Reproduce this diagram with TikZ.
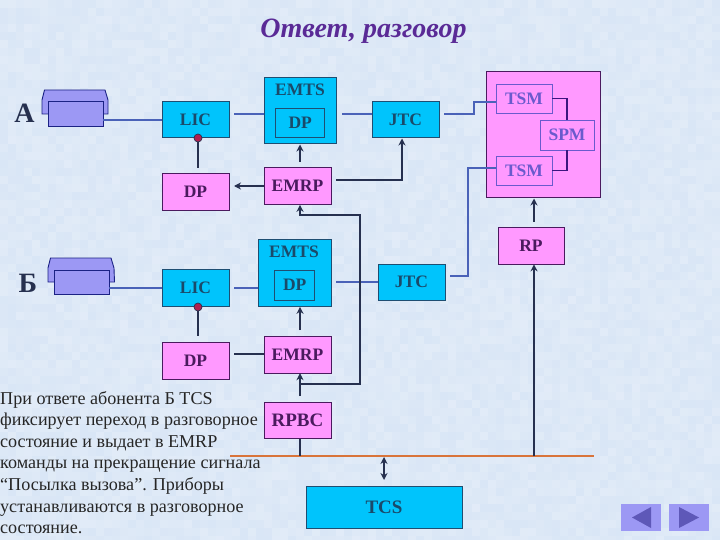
\documentclass[tikz,border=0pt]{standalone}
\usepackage{fontspec}
\setmainfont{Liberation Serif}
\usetikzlibrary{arrows.meta}
\definecolor{bgc}{HTML}{D9E6F6}
\definecolor{cyanc}{HTML}{00C4FC}
\definecolor{pinkc}{HTML}{FF99FF}
\definecolor{cyantxt}{HTML}{1A4A6A}
\definecolor{pinktxt}{HTML}{4A1A5E}
\definecolor{navyc}{HTML}{26304F}
\definecolor{bluec}{HTML}{4A62B8}
\definecolor{tsmc}{HTML}{6A5ACD}
\definecolor{phonec}{HTML}{9C98F4}
\definecolor{titlec}{HTML}{5A2A96}
\definecolor{busc}{HTML}{D9743A}
\definecolor{trianc}{HTML}{5E58B8}
\definecolor{dotc}{HTML}{B02050}
\tikzset{
  boxbase/.style={draw,line width=1pt,inner sep=0pt,font=\fontsize{17.5}{20}\selectfont\bfseries},
  cyanbox/.style={boxbase,fill=cyanc,draw=navyc!80!cyanc,text=cyantxt},
  pinkbox/.style={boxbase,fill=pinkc,draw=pinktxt,text=pinktxt},
  tsmbox/.style={draw=tsmc,fill=pinkc,line width=0.9pt,inner sep=0pt,text=tsmc,font=\fontsize{17.5}{20}\selectfont\bfseries},
  phoneb/.style={draw=navyc!70!blue,line width=0.9pt,fill=phonec},
  dark/.style={draw=navyc,line width=2pt},
  darkar/.style={dark,-{Stealth[length=7pt,width=7pt]}},
  blueln/.style={draw=bluec,line width=2pt},
  thinln/.style={draw=pinktxt!80!blue,line width=1.2pt},
  dotn/.style={circle,fill=dotc,draw=navyc,line width=0.7pt,minimum size=8pt,inner sep=0pt},
  navbtn/.style={fill=phonec,minimum width=40pt,minimum height=27pt,inner sep=0pt},
  lettern/.style={font=\fontsize{28}{30}\selectfont\bfseries,text=navyc,inner sep=0pt}
}
\begin{document}
\begin{tikzpicture}[x=1pt,y=-1pt]
\useasboundingbox (0,0) rectangle (720,540);
\fill[bgc] (0,0) rectangle (720,540);
% mottled paper
\pgfmathsetseed{7}
\foreach \ix in {0,...,89}{\foreach \iy in {0,...,67}{
  \pgfmathsetmacro{\op}{rnd*0.24}
  \fill[white,opacity=\op] (8*\ix,8*\iy) rectangle ++(8,8);
}}
% title
\node[inner sep=0pt,text=titlec,font=\fontsize{28}{30}\selectfont\bfseries\itshape] (title) at (363.5,31) {Ответ, разговор};
% big switch block
\node[draw=pinktxt,fill=pinkc,line width=1pt,inner sep=0pt,minimum width=114pt,minimum height=126pt] (spmblk) at (543,135) {};
\node[tsmbox,minimum width=56pt,minimum height=29pt] (tsma) at (524,98.5) {TSM};
\node[tsmbox,minimum width=54pt,minimum height=30pt] (spm) at (567,135) {SPM};
\node[tsmbox,minimum width=56pt,minimum height=29pt] (tsmb) at (524,170.5) {TSM};
% A row
\node[cyanbox,minimum width=67pt,minimum height=36pt] (lica) at (195.5,120) {LIC};
\node[cyanbox,minimum width=72.5pt,minimum height=66pt] (emtsa) at (300.5,111) {};
\node[inner sep=0pt,text=cyantxt,font=\fontsize{17.5}{20}\selectfont\bfseries] (emtsal) at (300,90) {EMTS};
\node[cyanbox,minimum width=48.5pt,minimum height=29.5pt] (dpia) at (300.2,122.8) {DP};
\node[cyanbox,minimum width=67pt,minimum height=36pt] (jtca) at (405.5,120) {JTC};
\node[pinkbox,minimum width=67pt,minimum height=36.5pt] (dpa) at (195.5,192.2) {DP};
\node[pinkbox,minimum width=67pt,minimum height=36.5pt] (emrpa) at (297.5,186.2) {EMRP};
% B row
\node[cyanbox,minimum width=67pt,minimum height=36.5pt] (licb) at (195.5,288.2) {LIC};
\node[cyanbox,minimum width=73pt,minimum height=66.5pt] (emtsb) at (294.5,273.2) {};
\node[inner sep=0pt,text=cyantxt,font=\fontsize{17.5}{20}\selectfont\bfseries] (emtsbl) at (294,252) {EMTS};
\node[cyanbox,minimum width=40.5pt,minimum height=30pt] (dpib) at (294.7,285) {DP};
\node[cyanbox,minimum width=67pt,minimum height=36pt] (jtcb) at (411.5,282) {JTC};
\node[pinkbox,minimum width=67pt,minimum height=37pt] (dpb) at (195.5,360.5) {DP};
\node[pinkbox,minimum width=67pt,minimum height=37pt] (emrpb) at (297.5,354.5) {EMRP};
\node[pinkbox,minimum width=66pt,minimum height=36pt] (rp) at (531,246) {RP};
\node[pinkbox,minimum width=67pt,minimum height=36pt,font=\fontsize{19}{20}\selectfont\bfseries] (rpbc) at (297.5,420) {RPBC};
\node[cyanbox,minimum width=156pt,minimum height=42pt,font=\fontsize{19}{20}\selectfont\bfseries] (tcs) at (384,507) {TCS};
% phones
\draw[phoneb] (42,114) -- (42,100) -- (44.5,90) -- (105,90) -- (108,100) -- (108,114) -- cycle;
\node[phoneb,inner sep=0pt,minimum width=55pt,minimum height=24.5pt] (pha) at (75.5,114.2) {};
\draw[phoneb] (48,282) -- (48,268) -- (50.5,258) -- (111,258) -- (114,268) -- (114.5,282) -- cycle;
\node[phoneb,inner sep=0pt,minimum width=55pt,minimum height=24.5pt] (phb) at (81.5,282.2) {};
\node[lettern] (la) at (24.5,113) {А};
\node[lettern] (lb) at (28,283) {Б};
% bus
\coordinate (busl) at (230,456);
\coordinate (busr) at (594,456);
\draw[draw=busc,line width=2.4pt] (busl) -- (busr);
% free ends
\coordinate (a1) at (234,114); \coordinate (a2) at (264,114);
\coordinate (a3) at (342,114); \coordinate (a4) at (372,114);
\coordinate (a5) at (444,114); \coordinate (a6) at (473.5,114);
\coordinate (a7) at (473.5,102); \coordinate (a8) at (496,102);
\coordinate (b1) at (234,288); \coordinate (b2) at (258,288);
\coordinate (b3) at (336,282); \coordinate (b4) at (378,282);
\coordinate (b5) at (450,276); \coordinate (b6) at (468,276);
\coordinate (b7) at (468,168); \coordinate (b8) at (496,168);
\coordinate (pa) at (103,120); \coordinate (pa2) at (162,120);
\coordinate (pb) at (109,288); \coordinate (pb2) at (162,288);
% blue links
\draw[blueln] (pa) -- (pa2);
\draw[blueln] (pb) -- (pb2);
\draw[blueln] (a1) -- (a2);
\draw[blueln] (a3) -- (a4);
\draw[blueln] (a5) -- (a6) -- (a7) -- (a8);
\draw[blueln] (b1) -- (b2);
\draw[blueln] (b3) -- (b4);
\draw[blueln] (b5) -- (b6) -- (b7) -- (b8);
% switch internals
\draw[thinln] (tsma.east) -- (tsma.east -| spm) -- (spm.north);
\draw[thinln] (tsmb.east) -- (tsmb.east -| spm) -- (spm.south);
% dark links, A
\node[dotn] (dota) at (198,138) {};
\node[dotn] (dotb) at (198,307) {};
\coordinate (d1) at (198,168); \coordinate (d2) at (198,336);
\draw[dark] (dota) -- (d1);
\draw[dark] (dotb) -- (d2);
\coordinate (e1) at (264,186); \coordinate (e2) at (234,186);
\draw[darkar] (e1) -- (e2);
\coordinate (e3) at (300,162); \coordinate (e4) at (300,144.5);
\draw[darkar] (e3) -- (e4);
\coordinate (e5) at (336,180); \coordinate (e6) at (402,180); \coordinate (e7) at (402,138.5);
\draw[darkar] (e5) -- (e6) -- (e7);
\coordinate (f1) at (300,384); \coordinate (f2) at (360,384); \coordinate (f3) at (360,215.5);
\coordinate (f4) at (300,215.5); \coordinate (f5) at (300,204.8);
\draw[darkar] (f1) -- (f2) -- (f3) -- (f4) -- (f5);
% dark links, B
\coordinate (g1) at (300,330); \coordinate (g2) at (300,306.8);
\draw[darkar] (g1) -- (g2);
\coordinate (g3) at (234,354); \coordinate (g4) at (264,354);
\draw[dark] (g3) -- (g4);
\coordinate (g5) at (300,396); \coordinate (g6) at (300,373.2);
\draw[darkar] (g5) -- (g6);
\coordinate (h1) at (300,456);
\draw[dark] (rpbc.south -| h1) -- (h1);
\coordinate (h2) at (534,456); \coordinate (h3) at (534,264.3);
\draw[darkar] (h2) -- (h3);
\coordinate (h4) at (534,222); \coordinate (h5) at (534,198.5);
\draw[darkar] (h4) -- (h5);
\coordinate (h6) at (384,457); \coordinate (h7) at (384,480);
\draw[dark,{Stealth[length=7pt,width=7pt]}-{Stealth[length=7pt,width=7pt]}] (h6) -- (h7);
% text
\node[anchor=north west,inner sep=0pt,align=left,text=black!85,font=\fontsize{18.1}{21.6}\selectfont] (body) at (0,391) {При ответе абонента Б TCS\\фиксирует переход в разговорное\\состояние и выдает в EMRP\\команды на прекращение сигнала\\“Посылка вызова”. Приборы\\устанавливаются  в разговорное\\состояние.};
% nav
\node[navbtn] (nl) at (641,517.5) {};
\node[navbtn] (nr) at (689,517.5) {};
\fill[trianc] (632,517.5) -- (651,507) -- (651,528) -- cycle;
\fill[trianc] (699,517.5) -- (679,507) -- (679,528) -- cycle;
\end{tikzpicture}
\end{document}
